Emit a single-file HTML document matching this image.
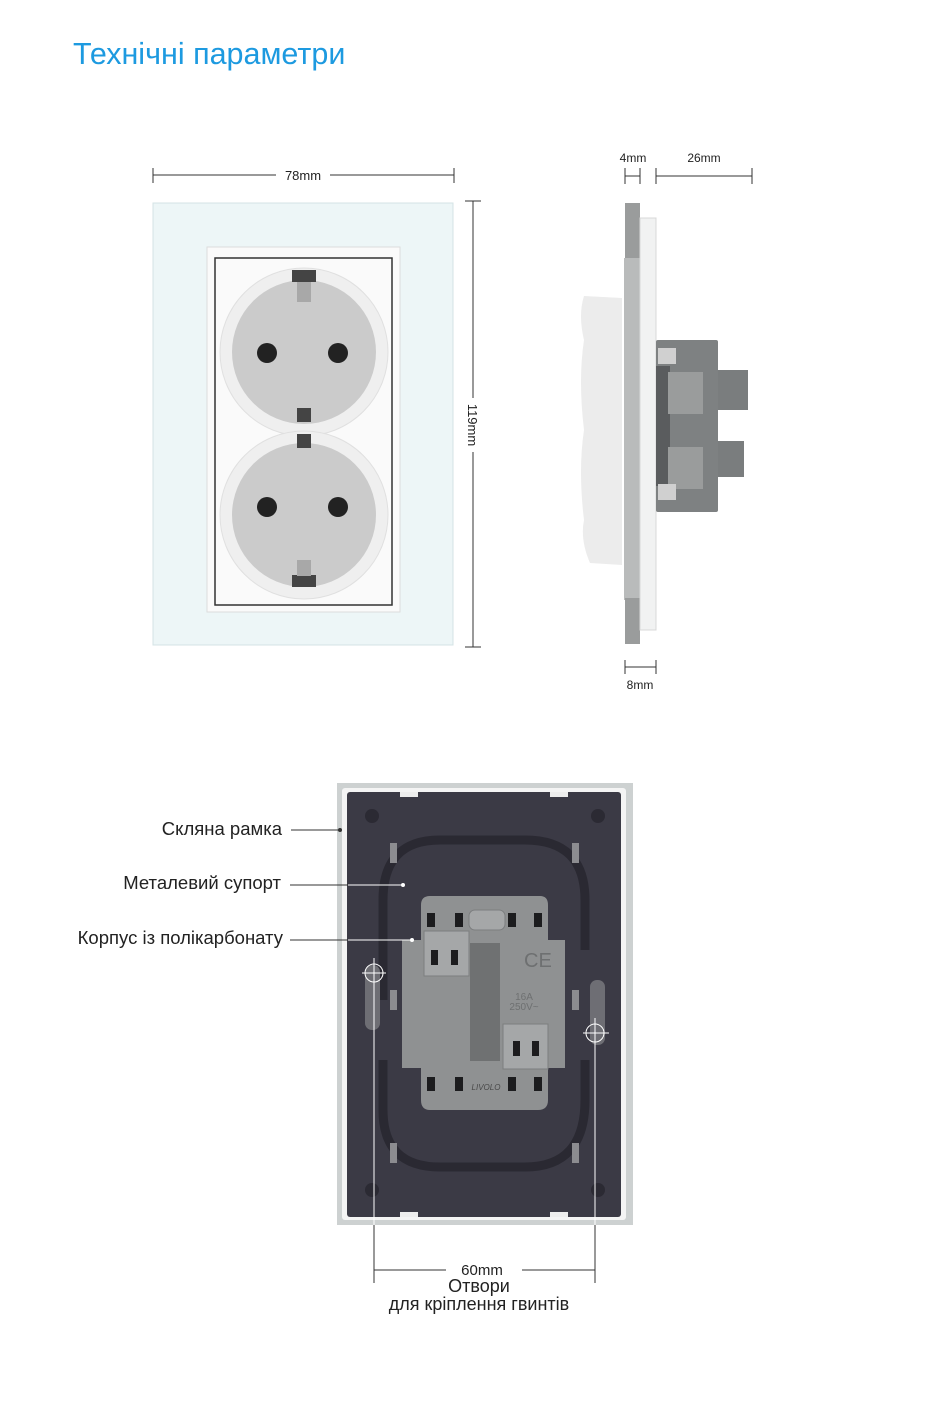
<!DOCTYPE html>
<html><head><meta charset="utf-8"><style>
body{margin:0;background:#fff;width:930px;height:1398px;overflow:hidden;font-family:"Liberation Sans",sans-serif}
</style></head><body>
<svg width="930" height="1398" viewBox="0 0 930 1398" xmlns="http://www.w3.org/2000/svg" font-family="Liberation Sans, sans-serif">
<text x="73" y="64" font-size="30.5" fill="#1d9ae0">Технічні параметри</text>

<!-- front dims -->
<g stroke="#333" stroke-width="1">
<line x1="153" y1="175" x2="276" y2="175"/><line x1="330" y1="175" x2="454" y2="175"/>
<line x1="153" y1="168" x2="153" y2="183"/><line x1="454" y1="168" x2="454" y2="183"/>
<line x1="473" y1="201" x2="473" y2="398"/><line x1="473" y1="452" x2="473" y2="647"/>
<line x1="465" y1="201" x2="481" y2="201"/><line x1="465" y1="647" x2="481" y2="647"/>
</g>
<text x="303" y="180" font-size="13" text-anchor="middle" fill="#222">78mm</text>
<text x="0" y="0" font-size="13" fill="#222" transform="translate(468,425) rotate(90)" text-anchor="middle">119mm</text>

<!-- front plate -->
<rect x="153" y="203" width="300" height="442" fill="#edf6f7" stroke="#d4e3e5"/>
<rect x="207" y="247" width="193" height="365" fill="#fafafa" stroke="#dcdcdc"/>
<rect x="215" y="258" width="177" height="347" fill="none" stroke="#333" stroke-width="1.5"/>
<g>
<circle cx="304" cy="352" r="84" fill="#efefef" stroke="#e0e0e0"/>
<circle cx="304" cy="515" r="84" fill="#efefef" stroke="#e0e0e0"/>
<path d="M225 420 Q240 433 225 446 L220 446 L220 420Z M383 420 Q368 433 383 446 L388 446 L388 420Z" fill="#fafafa"/>
<circle cx="304" cy="352" r="72" fill="#cbcbcb"/>
<circle cx="304" cy="515" r="72" fill="#cbcbcb"/>
<circle cx="267" cy="353" r="10" fill="#222"/><circle cx="338" cy="353" r="10" fill="#222"/>
<circle cx="267" cy="507" r="10" fill="#222"/><circle cx="338" cy="507" r="10" fill="#222"/>
<rect x="292" y="270" width="24" height="12" fill="#444"/><rect x="297" y="282" width="14" height="20" fill="#a8a8a8"/>
<rect x="297" y="408" width="14" height="14" fill="#444"/><rect x="297" y="434" width="14" height="14" fill="#444"/>
<rect x="292" y="575" width="24" height="12" fill="#444"/><rect x="297" y="560" width="14" height="16" fill="#a8a8a8"/>
</g>

<!-- side dims -->
<g stroke="#333" stroke-width="1">
<line x1="625" y1="168" x2="625" y2="184"/><line x1="640" y1="168" x2="640" y2="184"/><line x1="625" y1="176" x2="640" y2="176"/>
<line x1="656" y1="168" x2="656" y2="184"/><line x1="752" y1="168" x2="752" y2="184"/><line x1="656" y1="176" x2="752" y2="176"/>
<line x1="625" y1="660" x2="625" y2="674"/><line x1="656" y1="660" x2="656" y2="674"/><line x1="625" y1="667" x2="656" y2="667"/>
</g>
<text x="633" y="162" font-size="12" text-anchor="middle" fill="#222">4mm</text>
<text x="704" y="162" font-size="12" text-anchor="middle" fill="#222">26mm</text>
<text x="640" y="689" font-size="12" text-anchor="middle" fill="#222">8mm</text>

<!-- side view -->
<path d="M584 296 L622 298 L622 565 L590 563 Q580 540 584 520 Q578 470 584 430 Q578 380 584 340 Q578 315 584 296Z" fill="#ececec"/>
<rect x="624" y="258" width="16" height="342" fill="#b9bbbb"/>
<rect x="625" y="203" width="15" height="55" fill="#9a9c9c"/>
<rect x="625" y="598" width="15" height="46" fill="#9a9c9c"/>
<rect x="640" y="218" width="16" height="412" fill="#f1f2f2" stroke="#d8d8d8"/>
<rect x="656" y="340" width="62" height="172" fill="#7e8182" rx="2"/>
<rect x="656" y="366" width="14" height="120" fill="#5a5c5e"/>
<rect x="668" y="372" width="35" height="42" fill="#9a9c9c"/>
<rect x="668" y="447" width="35" height="42" fill="#9a9c9c"/>
<rect x="658" y="348" width="18" height="16" fill="#d0d0d0"/>
<rect x="658" y="484" width="18" height="16" fill="#d0d0d0"/>
<rect x="718" y="370" width="30" height="40" fill="#7a7d7e"/>
<rect x="718" y="441" width="26" height="36" fill="#7a7d7e"/>

<!-- back view -->
<rect x="337" y="783" width="296" height="442" fill="#cdd1d1"/>
<rect x="342" y="788" width="284" height="432" fill="#f4f4f4" rx="3"/>
<rect x="347" y="792" width="274" height="425" fill="#3b3a45" rx="3"/>
<path d="M383 1000 L383 900 Q383 840 440 840 L525 840 Q585 840 585 900 L585 950 M585 1060 L585 1100 Q585 1167 525 1167 L440 1167 Q383 1167 383 1110 L383 1060" fill="none" stroke="#2a2932" stroke-width="9"/>
<g fill="#2b2a33"><circle cx="372" cy="816" r="7"/><circle cx="598" cy="816" r="7"/><circle cx="372" cy="1190" r="7"/><circle cx="598" cy="1190" r="7"/></g>
<g fill="#8c8c90"><rect x="390" y="843" width="7" height="20"/><rect x="572" y="843" width="7" height="20"/><rect x="390" y="990" width="7" height="20"/><rect x="572" y="990" width="7" height="20"/><rect x="390" y="1143" width="7" height="20"/><rect x="572" y="1143" width="7" height="20"/></g>
<rect x="365" y="965" width="15" height="65" rx="7" fill="#6e6e74"/>
<rect x="590" y="980" width="15" height="65" rx="7" fill="#6e6e74"/>
<g fill="#ededed"><rect x="400" y="792" width="18" height="5"/><rect x="550" y="792" width="18" height="5"/><rect x="400" y="1212" width="18" height="5"/><rect x="550" y="1212" width="18" height="5"/></g>
<path d="M421 905 Q421 896 430 896 L540 896 Q548 896 548 905 L548 940 L565 940 L565 1068 L548 1068 L548 1100 Q548 1110 538 1110 L430 1110 Q421 1110 421 1100 L421 1068 L402 1068 L402 940 L421 940 Z" fill="#8f9192"/>
<rect x="470" y="943" width="30" height="118" fill="#6f7172"/>
<rect x="424" y="931" width="45" height="45" fill="#a5a7a8" stroke="#7c7e7f"/>
<rect x="503" y="1024" width="45" height="45" fill="#a5a7a8" stroke="#7c7e7f"/>
<g fill="#1c1c1e">
<rect x="431" y="950" width="7" height="15"/><rect x="451" y="950" width="7" height="15"/>
<rect x="513" y="1041" width="7" height="15"/><rect x="532" y="1041" width="7" height="15"/>
<rect x="427" y="913" width="8" height="14"/><rect x="455" y="913" width="8" height="14"/><rect x="508" y="913" width="8" height="14"/><rect x="534" y="913" width="8" height="14"/>
<rect x="427" y="1077" width="8" height="14"/><rect x="455" y="1077" width="8" height="14"/><rect x="508" y="1077" width="8" height="14"/><rect x="534" y="1077" width="8" height="14"/>
</g>
<rect x="469" y="910" width="36" height="20" rx="6" fill="#a5a7a8" stroke="#7c7e7f"/>
<text x="524" y="967" font-size="20" fill="#6e7071">CE</text>
<text x="524" y="1000" font-size="10" fill="#6e7071" text-anchor="middle">16A</text>
<text x="524" y="1010" font-size="10" fill="#6e7071" text-anchor="middle">250V~</text>
<text x="486" y="1090" font-size="8" fill="#4a4a4a" text-anchor="middle" font-style="italic">LIVOLO</text>

<!-- screw marks -->
<g stroke="#fff" stroke-width="1" fill="none">
<circle cx="374" cy="973" r="9"/><line x1="362" y1="973" x2="386" y2="973"/>
<circle cx="595" cy="1033" r="9"/><line x1="583" y1="1033" x2="609" y2="1033"/>
<line x1="374" y1="958" x2="374" y2="1225"/><line x1="595" y1="1018" x2="595" y2="1225"/>
</g>
<g stroke="#333" stroke-width="1">
<line x1="374" y1="1225" x2="374" y2="1283"/><line x1="595" y1="1225" x2="595" y2="1283"/>
<line x1="374" y1="1270" x2="446" y2="1270"/><line x1="522" y1="1270" x2="595" y2="1270"/>
</g>
<text x="482" y="1275" font-size="15" text-anchor="middle" fill="#222">60mm</text>
<text x="479" y="1292" font-size="18" text-anchor="middle" fill="#222">Отвори</text>
<text x="479" y="1310" font-size="18" text-anchor="middle" fill="#222">для кріплення гвинтів</text>

<!-- labels -->
<g font-size="18.5" fill="#222" text-anchor="end">
<text x="282" y="835">Скляна рамка</text>
<text x="281" y="889">Металевий супорт</text>
<text x="283" y="944">Корпус із полікарбонату</text>
</g>
<line x1="291" y1="830" x2="339" y2="830" stroke="#333"/><circle cx="340" cy="830" r="2" fill="#333"/>
<line x1="290" y1="885" x2="403" y2="885" stroke="#333"/><line x1="348" y1="885" x2="403" y2="885" stroke="#fff"/><circle cx="403" cy="885" r="2" fill="#fff"/>
<line x1="290" y1="940" x2="412" y2="940" stroke="#333"/><line x1="348" y1="940" x2="412" y2="940" stroke="#fff"/><circle cx="412" cy="940" r="2" fill="#fff"/>
</svg>
</body></html>
